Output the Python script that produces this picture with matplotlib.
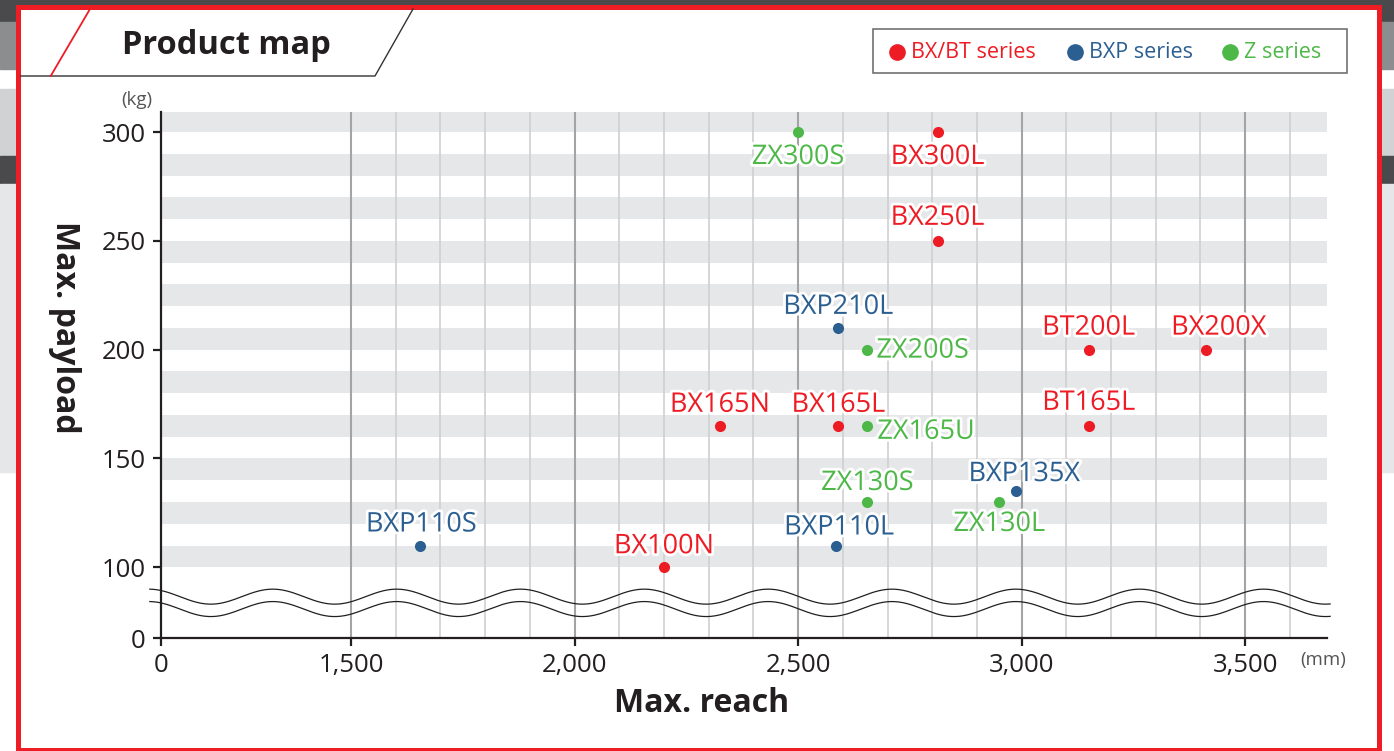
import numpy as np
import matplotlib
matplotlib.use("Agg")
import matplotlib.pyplot as plt
import matplotlib.patheffects as pe
from matplotlib.patches import Rectangle
from matplotlib.lines import Line2D

plt.rcParams['font.family'] = ['Open Sans', 'DejaVu Sans']

# data: model, series, max reach (mm), max payload (kg)
models = ['ZX300S', 'BX300L', 'BX250L', 'BXP210L', 'ZX200S', 'BT200L', 'BX200X',
          'BX165N', 'BX165L', 'ZX165U', 'BT165L', 'ZX130S', 'BXP135X', 'ZX130L',
          'BXP110S', 'BX100N', 'BXP110L']
series = ['Z', 'BX', 'BX', 'BXP', 'Z', 'BX', 'BX',
          'BX', 'BX', 'Z', 'BX', 'Z', 'BXP', 'Z',
          'BXP', 'BX', 'BXP']
reach = [2500, 2812, 2812, 2590, 2655, 3150, 3412,
         2325, 2590, 2655, 3150, 2655, 2988, 2950,
         1655, 2200, 2585]
payload = [300, 300, 250, 210, 200, 200, 200,
           165, 165, 165, 165, 130, 135, 130,
           110, 100, 110]

series_names = ['BX', 'BXP', 'Z']
series_labels = ['BX/BT series', 'BXP series', 'Z series']
colors = {'BX': '#ed1c24', 'BXP': '#2b5f91', 'Z': '#4db848'}

# label offsets in pixels (dx, dy) and alignment
label_pos = {
    'ZX300S': (0, -25, 'center'), 'BX300L': (0, -25, 'center'),
    'BX250L': (0, 23, 'center'), 'BXP210L': (0, 21, 'center'),
    'ZX200S': (9, -1, 'left'), 'BT200L': (0, 22, 'center'),
    'BX200X': (13, 22, 'center'), 'BX165N': (0, 21, 'center'),
    'BX165L': (0, 21, 'center'), 'ZX165U': (10, -6, 'left'),
    'BT165L': (0, 23, 'center'), 'ZX130S': (0, 19, 'center'),
    'BXP135X': (8, 17, 'center'), 'ZX130L': (0, -22, 'center'),
    'BXP110S': (1, 21, 'center'), 'BX100N': (0, 21, 'center'),
    'BXP110L': (3, 18, 'center'),
}

x_ticks = [1500, 2000, 2500, 3000, 3500]
y_ticks = [100, 150, 200, 250, 300]
x_zero = 1075   # where "0" sits across the axis break
y_zero = 67.5

W, H = 1394, 751
fig = plt.figure(figsize=(W / 100, H / 100), dpi=100)


def fx(x):
    return x / W


def fy(y):
    return 1 - y / H


# page background stripes
for y0, y1, c in [(0, 22, '#4a4a4c'), (22, 69, '#8c8d8f'), (89, 156, '#d1d2d4'),
                  (156, 184, '#4a4a4c'), (184, 472, '#e6e7e8')]:
    fig.patches.append(Rectangle((0, fy(y1)), 1, (y1 - y0) / H,
                                 transform=fig.transFigure, color=c, zorder=0))
# white panel with red frame
fig.patches.append(Rectangle((fx(18.2), fy(749.5)), fx(1379.2 - 18.2), (749.5 - 6.5) / H,
                             transform=fig.transFigure, facecolor='white',
                             edgecolor='#ee1c25', linewidth=3.6, zorder=1))

# title tab
fig.lines.append(Line2D([fx(20.7), fx(375), fx(413)], [fy(76), fy(76), fy(9)],
                        transform=fig.transFigure, color='#333333', lw=1.0, zorder=2))
fig.lines.append(Line2D([fx(50.7), fx(90)], [fy(76), fy(9)],
                        transform=fig.transFigure, color='#ee1c25', lw=1.3, zorder=2))
fig.text(fx(226), fy(45), 'Product map', fontsize=23.5, fontweight='bold',
         color='#231f20', ha='center', va='center')

# legend box
fig.patches.append(Rectangle((fx(873), fy(73)), fx(1347 - 873), (73 - 29) / H,
                             transform=fig.transFigure, facecolor='white',
                             edgecolor='#666666', linewidth=1.1, zorder=2))
for s, lab, xd in zip(series_names, series_labels, [897, 1075, 1230]):
    fig.lines.append(Line2D([fx(xd)], [fy(51.5)], transform=fig.transFigure, marker='o',
                            markersize=11, color=colors[s], lw=0, zorder=3))
    fig.text(fx(xd + 14), fy(52), lab, fontsize=15.5, color=colors[s],
             ha='left', va='center', zorder=3)

ax = fig.add_axes([fx(161), fy(638), fx(1327 - 161), (638 - 112) / H])
ax.set_zorder(2)
ax.patch.set_alpha(0)
ax.set_xlim(x_zero, 3683)
ax.set_ylim(y_zero, 309.2)

# horizontal bands
for v in range(100, 301, 20):
    ax.axhspan(v, v + 10, color='#e6e7e8', lw=0, zorder=0)
# vertical grid
for v in range(1500, 3700, 100):
    major = v % 500 == 0
    ax.axvline(v, color='#a3a4a6' if major else '#cfd0d2',
               lw=1.5 if major else 1.2, zorder=1)

# axis break wave
xs = np.linspace(1050, 3690, 600)
wave = 3.45 * np.cos(2 * np.pi * (xs - 1325) / 277)
for yc in [86.5, 80.8]:
    ax.plot(xs, yc + wave, color='#231f20', lw=0.9, clip_on=False, zorder=2)

for s in series_names:
    xv = [r for r, ss in zip(reach, series) if ss == s]
    yv = [p for p, ss in zip(payload, series) if ss == s]
    ax.scatter(xv, yv, s=64, color=colors[s], lw=0, zorder=4)

for m, s, r, p in zip(models, series, reach, payload):
    dx, dy, ha = label_pos[m]
    ax.annotate(m, (r, p), xytext=(dx, dy), textcoords='offset pixels',
                ha=ha, va='center', fontsize=19.5, color=colors[s], zorder=5,
                path_effects=[pe.withStroke(linewidth=4, foreground='white')])

ax.set_xticks([x_zero] + x_ticks)
ax.set_xticklabels(['0'] + [f'{v:,}' for v in x_ticks])
ax.set_yticks([y_zero] + y_ticks)
ax.set_yticklabels(['0'] + [str(v) for v in y_ticks])
for side in ['top', 'right']:
    ax.spines[side].set_visible(False)
for side in ['left', 'bottom']:
    ax.spines[side].set_color('#231f20')
    ax.spines[side].set_linewidth(1.6)
    ax.spines[side].set_zorder(3)
ax.tick_params(direction='out', length=6, width=1.6, color='#231f20',
               labelsize=18.5, labelcolor='#231f20', pad=5)

aw, ah = 1327 - 161, 638 - 112
ax.set_xlabel('Max. reach', fontsize=23, fontweight='bold', color='#231f20',
              va='center', ha='center')
ax.xaxis.set_label_coords((702 - 161) / aw, (638 - 703) / ah)
ax.set_ylabel('Max. payload', fontsize=23, fontweight='bold', color='#231f20',
              rotation=270, va='center', ha='center')
ax.yaxis.set_label_coords((64 - 161) / aw, (638 - 327) / ah)

fig.text(fx(137), fy(100), '(kg)', fontsize=13.5, color='#555555', ha='center', va='center')
fig.text(fx(1323), fy(660), '(mm)', fontsize=13.5, color='#555555', ha='center', va='center')

fig.savefig('out.png', dpi=100)
